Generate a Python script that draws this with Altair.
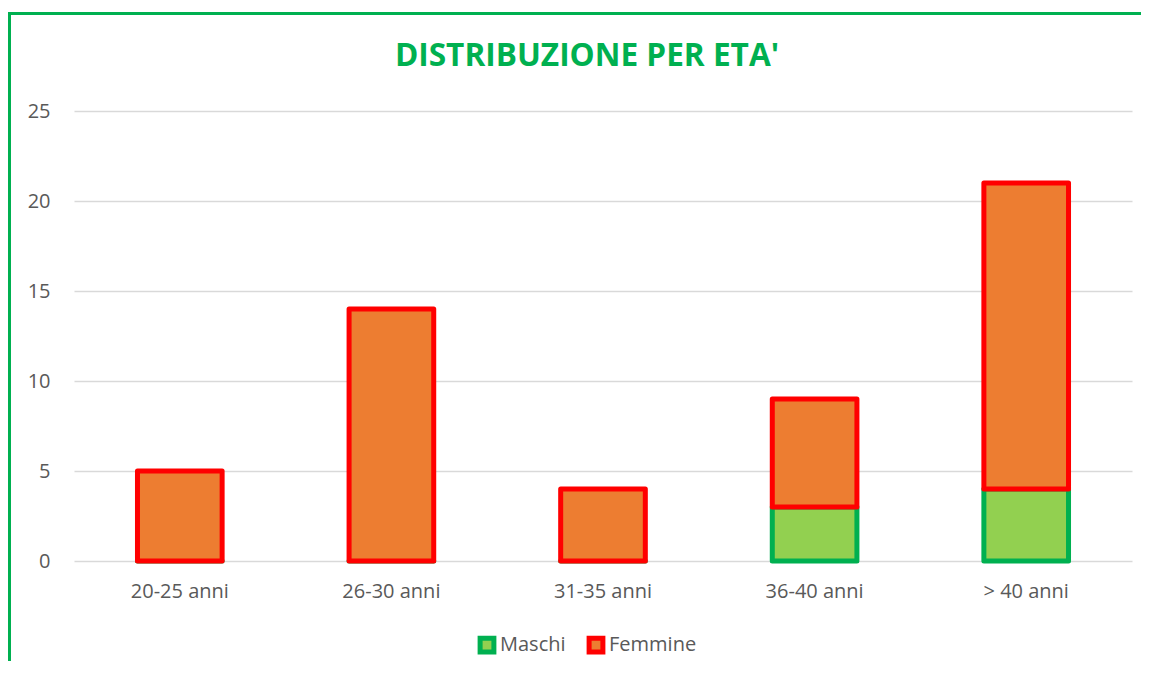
import altair as alt
import pandas as pd

categorie = ["20-25 anni", "26-30 anni", "31-35 anni", "36-40 anni", "> 40 anni"]
maschi = [0, 0, 0, 3, 4]
femmine = [5, 14, 4, 6, 17]
serie = ["Maschi", "Femmine"]
colori_fill = ["#92D050", "#ED7D31"]
colori_bordo = ["#00B050", "#FF0000"]
tick_y = [0, 5, 10, 15, 20, 25]

rows = []
for i, (nome, valori) in enumerate(zip(serie, [maschi, femmine])):
    for c, v in zip(categorie, valori):
        rows.append({"categoria": c, "serie": nome, "valore": v, "ordine": i})
df = pd.DataFrame(rows)

W, H = 1058, 450
FONT = "Open Sans"
GRAY = "#595959"

legend_cfg = dict(
    title=None, orient="none", direction="horizontal",
    legendX=403, legendY=524,
    labelFont=FONT, labelFontSize=20, labelColor=GRAY,
    symbolType="square", symbolSize=190, symbolStrokeWidth=5,
    columnPadding=13, labelOffset=3,
)

bars = alt.Chart(df).mark_bar(strokeWidth=5, strokeJoin="round").encode(
    x=alt.X("categoria:N", sort=categorie, title=None,
            scale=alt.Scale(paddingInner=0.6, paddingOuter=0.3),
            axis=alt.Axis(labelAngle=0, labelFont=FONT, labelFontSize=20,
                          labelColor=GRAY, labelPadding=20, ticks=False,
                          domain=False, grid=False)),
    y=alt.Y("valore:Q", stack="zero", title=None,
            scale=alt.Scale(domain=[0, 25], nice=False),
            axis=alt.Axis(values=tick_y, labelFont=FONT, labelFontSize=20,
                          labelColor=GRAY, labelPadding=24, ticks=False,
                          domain=False, gridColor="#D9D9D9", gridWidth=1.3)),
    fill=alt.Fill("serie:N", scale=alt.Scale(domain=serie, range=colori_fill),
                  legend=alt.Legend(**legend_cfg)),
    stroke=alt.Stroke("serie:N", scale=alt.Scale(domain=serie, range=colori_bordo),
                      legend=alt.Legend(**legend_cfg)),
    order=alt.Order("ordine:Q"),
)

frame = alt.Chart(alt.Data(values=[{}])).mark_rect(
    fill="transparent", stroke="#00B050", strokeWidth=3
).encode(
    x=alt.value(-64.5), x2=alt.value(W + 300),
    y=alt.value(-97.5), y2=alt.value(H + 300),
)

chart = alt.layer(frame, bars).properties(
    width=W, height=H,
    title=alt.Title("DISTRIBUZIONE PER ETA'", font=FONT, fontSize=31.6,
                    fontWeight="bold", color="#00B050", anchor="middle",
                    frame="group", baseline="bottom", offset=-92.5, dx=-16),
    autosize=alt.AutoSizeParams(type="none"),
    padding={"left": 66, "top": 103, "right": 9, "bottom": 100},
    background="white",
).configure_view(stroke=None)

chart.save("out.html", embed_options={"renderer": "svg", "actions": False})
